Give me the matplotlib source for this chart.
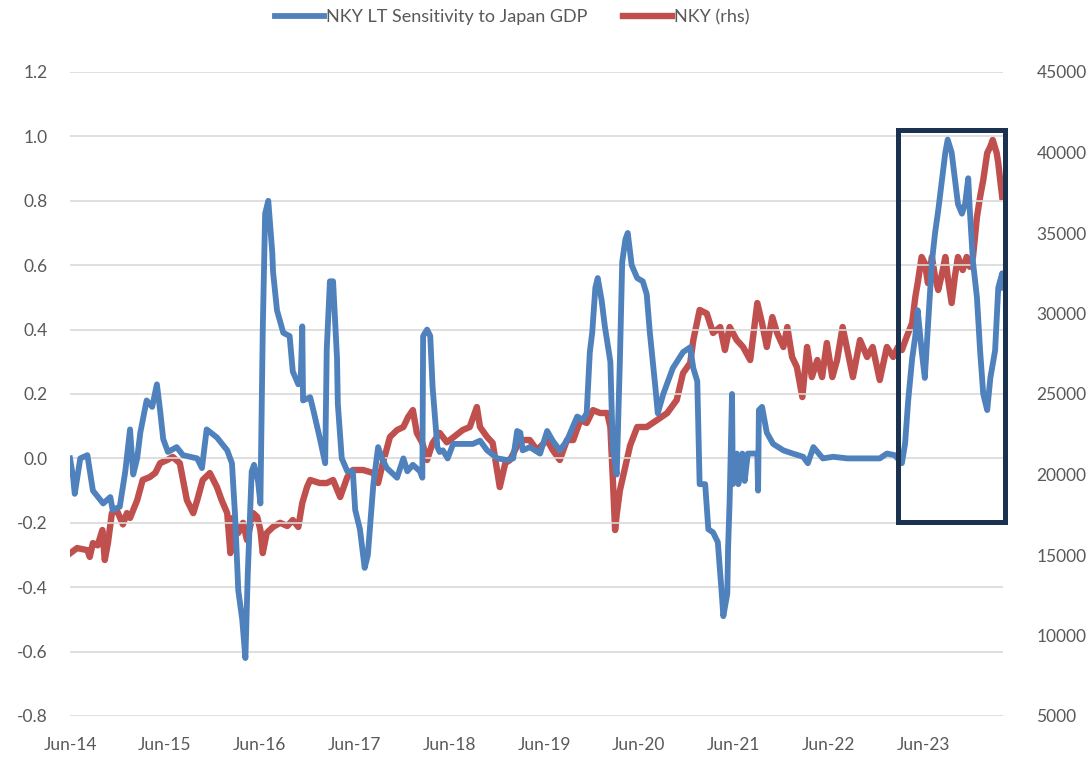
import matplotlib
matplotlib.use('Agg')
import matplotlib.pyplot as plt
from matplotlib.patches import Rectangle

plt.rcParams['font.family'] = ['Lato', 'DejaVu Sans']

# x positions: months since Jun-2014
sens_months = [0.0, 0.4, 0.6, 1.3, 2.2, 2.9, 4.2, 5.1, 5.4, 6.3, 7.0, 7.6, 8.0, 8.5, 8.9,
               9.7, 10.4, 11.0, 11.4, 11.8, 12.4, 13.5, 14.3, 16.1, 16.7, 17.3, 18.6, 19.9,
               20.5, 20.9, 21.3, 21.8, 22.2, 22.5, 23.0, 23.3, 23.8, 24.1, 24.4, 24.7, 25.1,
               25.6, 25.7, 26.2, 27.0, 27.8, 28.2, 28.9, 29.2, 29.4, 29.5, 30.4, 30.8, 31.6,
               32.3, 32.5, 32.9, 33.3, 33.8, 33.9, 34.4, 35.1, 35.8, 36.1, 36.7, 37.3, 37.7,
               38.4, 39.0, 39.5, 40.1, 41.4, 42.2, 42.7, 43.4, 44.3, 44.6, 44.7, 45.2, 45.6,
               45.9, 46.5, 46.8, 47.2, 47.8, 48.5, 49.7, 51.0, 51.9, 52.8, 54.1, 55.3, 56.1,
               56.6, 57.0, 57.3, 58.2, 59.5, 60.4, 61.1, 62.0, 62.9, 64.2, 64.9, 65.4, 65.8,
               66.1, 66.5, 66.8, 67.3, 67.7, 68.4, 68.7, 69.2, 69.6, 69.9, 70.3, 70.6, 71.1,
               71.8, 72.5, 73.0, 73.4, 74.1, 74.4, 75.1, 76.3, 77.6, 78.5, 78.9, 79.4, 79.7,
               80.4, 80.8, 81.4, 82.0, 82.5, 82.7, 83.2, 83.3, 83.5, 83.8, 83.9, 84.4, 84.6,
               85.1, 85.4, 85.8, 87.0, 87.1, 87.2, 87.6, 88.2, 89.0, 90.3, 91.5, 92.8, 93.4,
               94.1, 95.3, 96.6, 98.4, 100.9, 102.5, 103.4, 104.4, 105.3, 105.7, 106.1, 106.6,
               107.0, 107.3, 107.8, 108.2, 108.6, 109.1, 109.5, 109.9, 110.4, 110.8, 111.1,
               111.6, 112.0, 112.4, 112.9, 113.3, 113.7, 113.9, 114.3, 114.8, 115.2, 115.6,
               116.1, 116.5, 117.1, 117.5, 118.0, 118.1]
sens_values = [0.0, -0.06, -0.11, 0.0, 0.01, -0.10, -0.14, -0.12, -0.16, -0.15, -0.04, 0.09,
               -0.05, 0.0, 0.08, 0.18, 0.16, 0.23, 0.15, 0.06, 0.02, 0.035, 0.01, 0.0, -0.03,
               0.09, 0.065, 0.025, -0.015, -0.18, -0.41, -0.50, -0.62, -0.36, -0.04, -0.02,
               -0.07, -0.14, 0.40, 0.76, 0.80, 0.64, 0.58, 0.46, 0.39, 0.38, 0.27, 0.23, 0.24,
               0.41, 0.18, 0.19, 0.15, 0.065, -0.015, 0.34, 0.55, 0.55, 0.31, 0.17, 0.0, -0.04,
               -0.04, -0.16, -0.22, -0.34, -0.30, -0.08, 0.035, 0.0, -0.03, -0.06, 0.0, -0.04,
               -0.02, -0.04, -0.06, 0.38, 0.40, 0.38, 0.22, 0.035, 0.02, 0.025, 0.0, 0.045,
               0.045, 0.045, 0.055, 0.025, 0.0, -0.005, 0.0, 0.085, 0.08, 0.025, 0.035, 0.015,
               0.085, 0.055, 0.025, 0.055, 0.13, 0.12, 0.14, 0.33, 0.39, 0.53, 0.56, 0.49,
               0.41, 0.30, 0.035, -0.05, 0.30, 0.61, 0.68, 0.70, 0.60, 0.56, 0.55, 0.51, 0.39,
               0.22, 0.14, 0.20, 0.28, 0.33, 0.345, 0.28, 0.24, -0.08, -0.08, -0.22, -0.23,
               -0.26, -0.42, -0.49, -0.42, -0.28, -0.13, 0.20, -0.08, 0.015, -0.08, 0.015,
               -0.07, 0.015, 0.015, -0.10, 0.15, 0.16, 0.08, 0.045, 0.025, 0.015, 0.005,
               -0.015, 0.035, 0.0, 0.005, 0.0, 0.0, 0.0, 0.015, 0.01, -0.015, 0.045, 0.18,
               0.31, 0.38, 0.46, 0.335, 0.25, 0.41, 0.61, 0.70, 0.77, 0.87, 0.95, 0.99, 0.95,
               0.87, 0.79, 0.76, 0.79, 0.87, 0.77, 0.61, 0.50, 0.335, 0.20, 0.15, 0.25, 0.335,
               0.53, 0.575, 0.53]

nky_months = [0.0, 0.9, 2.2, 2.5, 2.9, 3.5, 4.1, 4.4, 4.8, 5.3, 5.9, 6.3, 6.7, 7.2, 7.6, 8.5,
              9.2, 10.1, 10.8, 11.4, 12.3, 13.0, 13.9, 14.8, 15.6, 16.1, 16.8, 17.7, 18.6,
              19.2, 19.9, 20.3, 20.6, 21.3, 21.9, 22.4, 23.2, 23.7, 24.1, 24.4, 24.9, 25.7,
              26.6, 27.5, 28.2, 28.9, 29.4, 30.0, 30.4, 31.6, 32.5, 33.3, 34.2, 35.1, 35.8,
              37.1, 38.4, 39.0, 39.6, 40.5, 41.4, 42.2, 42.8, 43.4, 43.9, 44.6, 45.2, 45.9,
              46.8, 47.7, 48.5, 49.7, 50.6, 51.5, 51.9, 52.8, 53.5, 54.4, 55.1, 55.7, 56.6,
              57.3, 58.2, 59.1, 60.4, 61.1, 62.0, 62.9, 63.7, 64.6, 65.4, 66.2, 67.1, 68.0,
              68.4, 68.7, 69.0, 69.2, 69.6, 70.3, 70.9, 71.8, 73.0, 74.3, 75.6, 76.8, 77.6,
              78.5, 78.9, 79.7, 80.6, 81.4, 82.3, 82.9, 83.5, 84.4, 85.2, 86.1, 87.0, 87.6,
              88.2, 88.9, 89.5, 90.3, 90.8, 91.4, 92.0, 92.7, 93.3, 93.9, 94.6, 95.2, 95.8,
              96.5, 97.1, 97.8, 98.5, 99.1, 100.0, 100.9, 101.6, 102.5, 103.4, 104.2, 104.8,
              105.3, 105.9, 106.6, 107.0, 107.3, 107.8, 108.2, 108.6, 109.1, 109.5, 109.9,
              110.4, 110.8, 111.1, 111.6, 112.0, 112.4, 113.0, 113.5, 113.9, 114.3, 114.8,
              115.2, 115.6, 116.1, 116.5, 116.8, 117.3, 117.5, 117.7, 118.0]
nky_values = [15100, 15430, 15300, 14880, 15740, 15600, 16550, 14690, 15740, 17600, 17800,
              17360, 16900, 17600, 17300, 18400, 19660, 19840, 20100, 20700, 20900, 21090,
              20700, 18400, 17600, 18400, 19660, 20090, 19220, 18400, 17600, 15120, 17300,
              16370, 17000, 15930, 17600, 17360, 16550, 15120, 16370, 16740, 17000, 16800,
              17170, 16740, 18230, 19220, 19660, 19470, 19470, 19660, 18600, 19840, 20280,
              20280, 20090, 19470, 20710, 22330, 22760, 22950, 23570, 24000, 22580, 21960,
              20900, 21960, 22580, 22000, 22300, 22760, 22950, 24190, 22950, 22330, 21960,
              19220, 20710, 20900, 21770, 22140, 22140, 21520, 22140, 21520, 20900, 22140,
              22140, 23380, 23200, 24000, 23820, 23820, 22950, 19840, 16550, 17500, 19000,
              20500, 21800, 22950, 22950, 23380, 23820, 24630, 26300, 26920, 28350, 30220,
              30000, 28790, 29160, 27730, 29160, 28350, 27920, 27110, 30650, 29400, 27920,
              29780, 28790, 27920, 29160, 27300, 26680, 24810, 27920, 26050, 27110, 26050,
              28170, 26050, 27110, 29160, 27500, 26050, 28350, 27300, 27920, 25870, 27920,
              27300, 27920, 27730, 28540, 29410, 31020, 31890, 33510, 33130, 31890, 33510,
              32270, 31460, 32520, 33510, 32270, 30650, 32270, 33510, 32700, 33510, 32900,
              33510, 35990, 37240, 38290, 39970, 40370, 40780, 39970, 39350, 38480, 37240]

tick_labels = ['Jun-14', 'Jun-15', 'Jun-16', 'Jun-17', 'Jun-18', 'Jun-19',
               'Jun-20', 'Jun-21', 'Jun-22', 'Jun-23']
tick_months = [12 * i for i in range(len(tick_labels))]

# highlighted window (months since Jun-14, sensitivity units)
box_start, box_end = 104.8, 118.3
box_low, box_high = -0.196, 1.02

blue = '#4f81bd'
red = '#c0504d'
text_col = '#595959'

fig = plt.figure(figsize=(10.9, 7.6), dpi=100)
ax = fig.add_axes([70 / 1090, 1 - 716 / 760, (1003 - 70) / 1090, (716 - 72) / 760])
ax2 = ax.twinx()

l1, = ax.plot(sens_months, sens_values, color=blue, lw=4.2, solid_joinstyle='round',
              label='NKY LT Sensitivity to Japan GDP', zorder=3)
l2, = ax2.plot(nky_months, nky_values, color=red, lw=4.6, solid_joinstyle='round',
               label='NKY (rhs)', zorder=2)
ax.set_zorder(ax2.get_zorder() + 1)
ax.patch.set_visible(False)

ax.set_ylim(-0.8, 1.2)
ax.set_yticks([-0.8 + 0.2 * i for i in range(11)])
ax.set_yticklabels([f'{-0.8 + 0.2 * i:.1f}' for i in range(11)])
ax2.set_ylim(5000, 45000)
ax2.set_yticks(range(5000, 45001, 5000))
ax.set_xlim(0, 118.1)
ax.set_xticks(tick_months)
ax.set_xticklabels(tick_labels)

ax.grid(axis='y', color='#d9d9d9', lw=1.2)
for a in (ax, ax2):
    for s in a.spines.values():
        s.set_visible(False)
    a.tick_params(length=0, labelsize=12.5, colors=text_col)
ax.tick_params(axis='y', pad=16)
ax.tick_params(axis='x', pad=15)
ax2.tick_params(axis='y', pad=24)

ax.add_patch(Rectangle((box_start, box_low), box_end - box_start, box_high - box_low,
                       fill=False, edgecolor='#1b3150', lw=3.6, zorder=5, clip_on=False))

fig.legend(handles=[l1, l2], loc='center', bbox_to_anchor=(512 / 1090, 1 - 17 / 760),
           ncol=2, frameon=False, fontsize=13, labelcolor=text_col,
           handlelength=2.7, handletextpad=0.1, columnspacing=2.0)

fig.savefig('out.png', dpi=100)
